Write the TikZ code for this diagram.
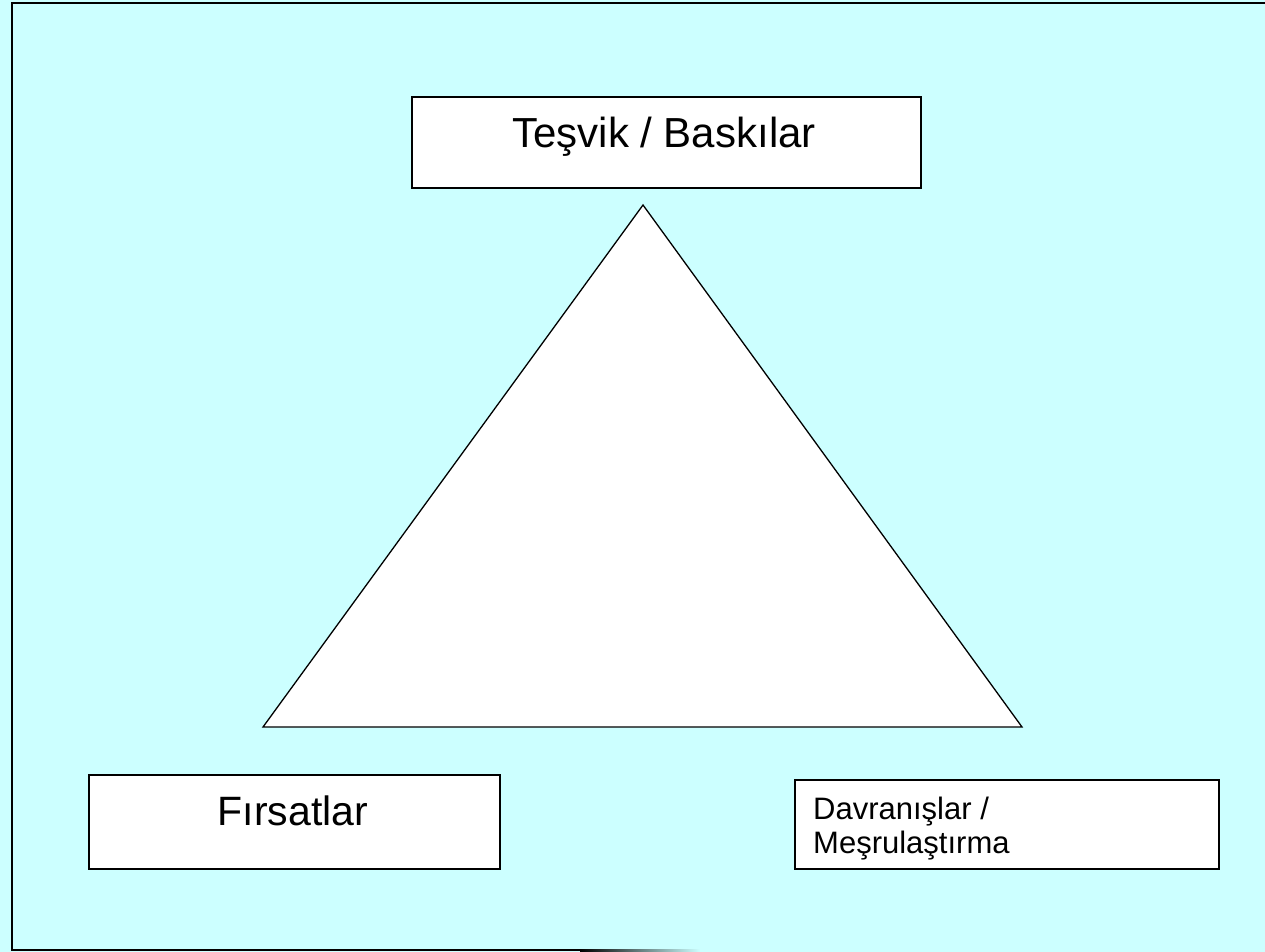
\documentclass[tikz,border=0pt]{standalone}
\usepackage{fontspec}
\setmainfont{Liberation Sans}
\definecolor{bgcyan}{HTML}{CCFFFF}
\begin{document}
\begin{tikzpicture}[x=1pt,y=-1pt,
  box/.style={draw=black,line width=1.7pt,fill=white,inner sep=0pt,anchor=north west},
  toptext/.style={font=\fontsize{42}{48}\selectfont,anchor=base,inner sep=0pt},
  lefttext/.style={font=\fontsize{41}{47}\selectfont,anchor=base,inner sep=0pt},
  smalltxt/.style={font=\fontsize{31}{35}\selectfont,anchor=base west,inner sep=0pt}]
\useasboundingbox (0,0) rectangle (1265,952);
\fill[bgcyan] (0,0) rectangle (1265,952);
% frame
\draw[line width=2pt] (1265,3) -- (12,3) -- (12,950) -- (580,950);
\shade[left color=black,right color=bgcyan] (580,949) rectangle (700,951);
% triangle
\coordinate (apex) at (643,205);
\coordinate (bl) at (263,727);
\coordinate (br) at (1022,727);
\draw[line width=1.3pt,fill=white,line join=miter] (apex) -- (bl) -- (br) -- cycle;
% boxes
\node[box,minimum width=509pt,minimum height=91pt] (top) at (411,96) {};
\node[toptext] (toptxt) at (664,148) {Teşvik / Baskılar};
\node[box,minimum width=411pt,minimum height=94pt] (left) at (88,774) {};
\node[lefttext] (lefttxt) at (293,825) {Fırsatlar};
\node[box,minimum width=424pt,minimum height=89pt] (right) at (794,779) {};
\node[smalltxt] (righttxt1) at (813,819) {Davranışlar /};
\node[smalltxt] (righttxt2) at (813,853) {Meşrulaştırma};
\end{tikzpicture}
\end{document}
